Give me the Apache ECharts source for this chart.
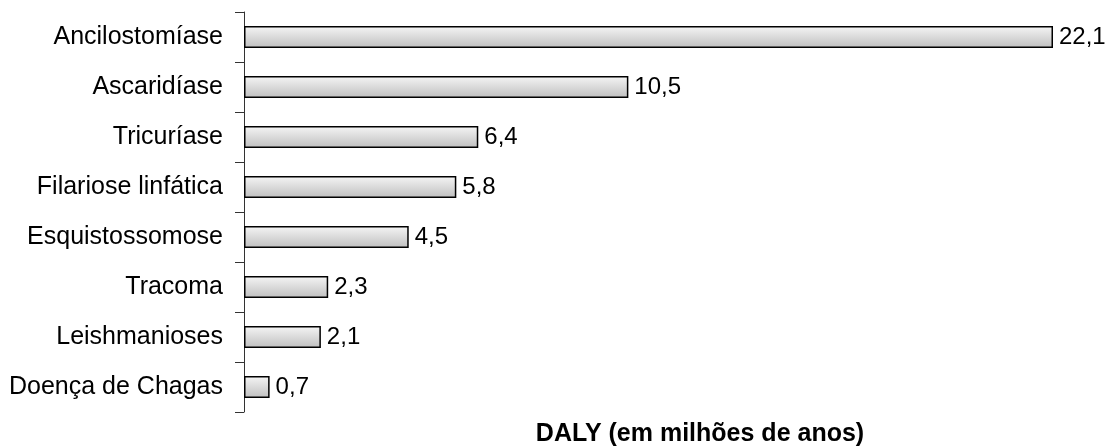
<!DOCTYPE html>
<html>
<head>
<meta charset="utf-8">
<script src="https://cdn.jsdelivr.net/npm/echarts@6/dist/echarts.min.js"></script>
<style>
html, body { margin: 0; padding: 0; background: #fff; }
#chart { width: 1114px; height: 446px; }
</style>
</head>
<body>
<div id="chart"></div>
<script>
var categories = ['Ancilostomíase', 'Ascaridíase', 'Tricuríase', 'Filariose linfática',
    'Esquistossomose', 'Tracoma', 'Leishmanioses', 'Doença de Chagas'];
var values = [22.1, 10.5, 6.4, 5.8, 4.5, 2.3, 2.1, 0.7];
var axisTitle = 'DALY (em milhões de anos)';

var chart = echarts.init(document.getElementById('chart'));
chart.setOption({
    animation: false,
    graphic: [{
        type: 'text',
        x: 700,
        y: 434,
        style: {
            text: axisTitle,
            textAlign: 'center',
            textVerticalAlign: 'middle',
            fontFamily: 'Liberation Sans',
            fontSize: 25,
            fontWeight: 'bold',
            fill: '#000'
        }
    }],
    grid: { left: 244, top: 12, width: 809, height: 400 },
    xAxis: {
        type: 'value',
        min: 0,
        max: 22.1,
        show: false
    },
    yAxis: {
        type: 'category',
        data: categories,
        inverse: true,
        axisLine: { show: true, lineStyle: { color: '#333', width: 1 } },
        axisTick: { show: true, length: 9, lineStyle: { color: '#333' } },
        axisLabel: { margin: 21, fontFamily: 'Liberation Sans', fontSize: 25, color: '#000' }
    },
    series: [{
        type: 'bar',
        data: values,
        barWidth: 22,
        itemStyle: {
            color: new echarts.graphic.LinearGradient(0, 0, 0, 1, [
                { offset: 0, color: '#f6f6f6' },
                { offset: 1, color: '#bfbfbf' }
            ]),
            borderColor: '#000',
            borderWidth: 1.5
        },
        label: {
            show: true,
            position: 'right',
            distance: 6,
            fontFamily: 'Liberation Sans',
            fontSize: 24,
            color: '#000',
            formatter: function (p) { return String(p.value).replace('.', ','); }
        }
    }]
});
</script>
</body>
</html>
